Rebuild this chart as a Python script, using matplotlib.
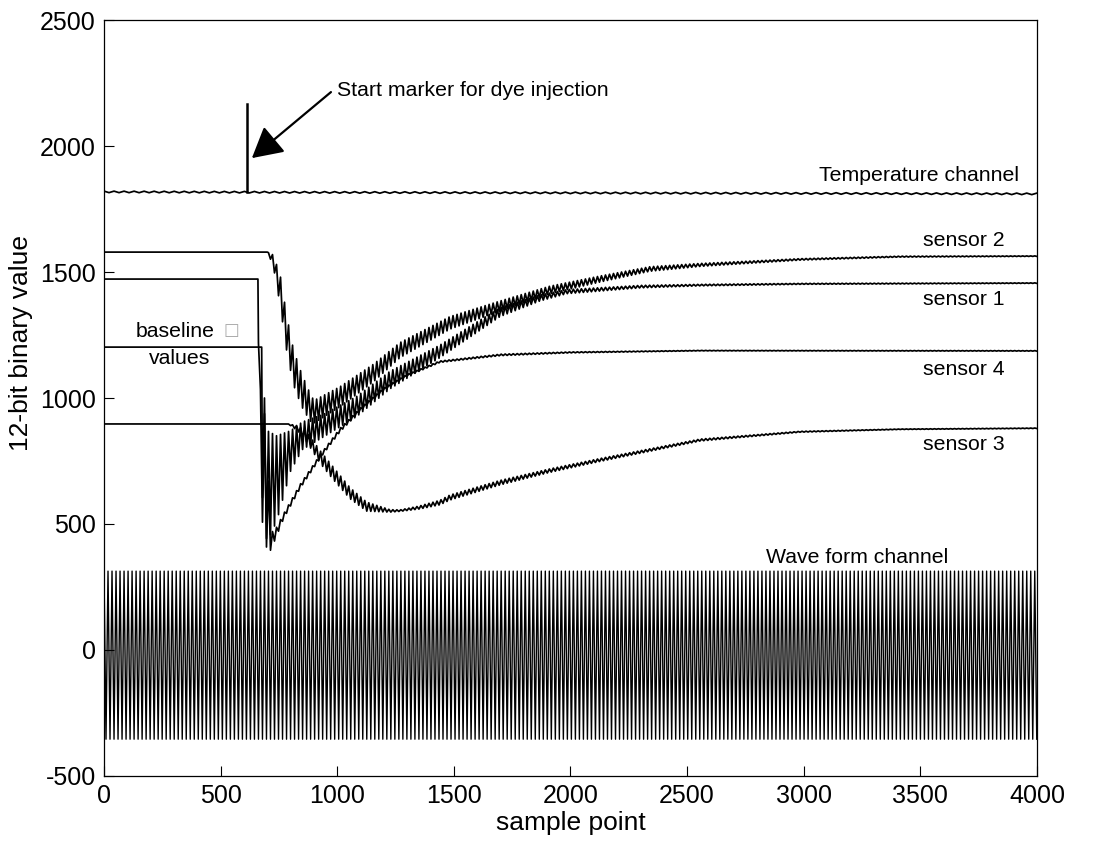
import numpy as np
import matplotlib
matplotlib.use("Agg")
import matplotlib.pyplot as plt
from matplotlib.patches import ArrowStyle

plt.rcParams['font.family'] = ['Liberation Sans', 'DejaVu Sans']
plt.rcParams['axes.unicode_minus'] = False

# ---------------- data ----------------
x_ticks = [0, 500, 1000, 1500, 2000, 2500, 3000, 3500, 4000]
y_ticks = [-500, 0, 500, 1000, 1500, 2000, 2500]

ripple_period = 17.2          # samples per oscillation cycle

# temperature channel
temp_x = [0, 1000, 2000, 3000, 4000]
temp_y = [1818, 1816, 1814, 1812, 1810]
temp_amp = [3, 3, 3, 3, 3]
marker_x = 613
marker_top = 2165

# sensor 1
s1_x = [0, 660, 668, 700, 740, 800, 850, 940, 1083, 1226, 1440, 1698, 1869, 1984, 2300, 2555, 3000, 4000]
s1_y = [1472, 1472, 800, 650, 680, 790, 850, 890, 966, 1071, 1185, 1341, 1397, 1422, 1442, 1448, 1453, 1456]
s1_amp = [0, 0, 250, 220, 170, 80, 55, 45, 40, 35, 25, 18, 12, 8, 5, 3, 2, 1]

# sensor 2
s2_x = [0, 700, 725, 755, 783, 812, 847, 883, 900, 1012, 1155, 1269, 1483, 1698, 1912, 2126, 2341, 2555, 2984, 3413, 4000]
s2_y = [1579, 1579, 1548, 1430, 1258, 1123, 1032, 964, 945, 1005, 1099, 1190, 1298, 1365, 1429, 1472, 1512, 1528, 1550, 1561, 1563]
s2_amp = [0, 0, 20, 60, 70, 70, 65, 55, 45, 40, 35, 30, 25, 20, 15, 12, 9, 6, 3, 2, 1]

# sensor 3
s3_x = [0, 790, 830, 869, 926, 983, 1055, 1126, 1226, 1269, 1350, 1440, 1483, 1698, 1912, 2126, 2555, 2984, 3413, 4000]
s3_y = [897, 897, 880, 846, 767, 701, 622, 569, 552, 553, 565, 585, 605, 664, 712, 754, 833, 866, 876, 880]
s3_amp = [0, 0, 10, 20, 25, 25, 22, 18, 5, 3, 6, 9, 10, 9, 7, 6, 4, 2, 1, 1]

# sensor 4
s4_x = [0, 676, 680, 700, 711, 730, 769, 840, 926, 1012, 1100, 1200, 1300, 1440, 1700, 2000, 2555, 4000]
s4_y = [1202, 1202, 800, 620, 430, 450, 529, 648, 767, 873, 955, 1035, 1090, 1144, 1171, 1181, 1188, 1187]
s4_amp = [0, 0, 300, 230, 40, 20, 10, 8, 7, 7, 6, 5, 4, 3, 3, 2, 1, 1]

# wave form channel
wave_top = 313
wave_bottom = -354

labels = ["Temperature channel", "sensor 2", "sensor 1", "sensor 4", "sensor 3", "Wave form channel"]


def ripple_line(kx, ky, ka, period, x_end=4000):
    kx = np.asarray(kx, float)
    ky = np.asarray(ky, float)
    ka = np.asarray(ka, float)
    grid = np.arange(0, x_end + 1e-9, period / 2.0)
    sign = np.where(np.arange(grid.size) % 2 == 0, 1.0, -1.0)
    corners = kx[ka == 0]
    xs = np.concatenate([grid, corners])
    off = np.concatenate([sign, np.zeros(corners.size)])
    order = np.argsort(xs, kind="stable")
    xs, off = xs[order], off[order]
    ys = np.interp(xs, kx, ky) + off * np.interp(xs, kx, ka)
    return xs, ys


fig = plt.figure(figsize=(11.04, 8.41), dpi=100)
ax = fig.add_axes([0.0942, 0.0773, 0.8451, 0.8989])

lw = 1.25
# waveform
wx = np.arange(0, 4000 + 1e-9, ripple_period / 2.0)
wy = np.where(np.arange(wx.size) % 2 == 0, wave_top, wave_bottom)
ax.plot(wx, wy, color="black", lw=1.0)

# temperature
tx, ty = ripple_line(temp_x, temp_y, temp_amp, ripple_period * 2.5)
ax.plot(tx, ty, color="black", lw=lw)
ax.plot([marker_x, marker_x], [np.interp(marker_x, temp_x, temp_y), marker_top], color="black", lw=1.8)

for kx, ky, ka in [(s1_x, s1_y, s1_amp), (s2_x, s2_y, s2_amp), (s3_x, s3_y, s3_amp), (s4_x, s4_y, s4_amp)]:
    xs, ys = ripple_line(kx, ky, ka, ripple_period)
    ax.plot(xs, ys, color="black", lw=lw)

ax.set_xlim(0, 4000)
ax.set_ylim(-500, 2500)
ax.set_xticks(x_ticks)
ax.set_yticks(y_ticks)
ax.tick_params(direction="in", length=7, width=0.8, labelsize=18, pad=6,
               top=False, right=False)
for s in ax.spines.values():
    s.set_linewidth(0.9)
ax.set_xlabel("sample point", fontsize=19, labelpad=2)
ax.set_ylabel("12-bit binary value", fontsize=19)
ax.yaxis.set_label_coords(-0.076, 0.573)

tfs = 15.3
ax.text(3065, 1881, labels[0], fontsize=tfs, va="center", ha="left")
ax.text(3511, 1627, labels[1], fontsize=tfs, va="center", ha="left")
ax.text(3511, 1389, labels[2], fontsize=tfs, va="center", ha="left")
ax.text(3511, 1115, labels[3], fontsize=tfs, va="center", ha="left")
ax.text(3511, 817, labels[4], fontsize=tfs, va="center", ha="left")
ax.text(2838, 330, labels[5], fontsize=tfs, va="bottom", ha="left")

ax.text(137, 1262, "baseline", fontsize=tfs, va="center", ha="left")
ax.text(512, 1268, "\u25a1", fontsize=12, va="center", ha="left", color="#aaaaaa",
        family=["DejaVu Sans"])
ax.text(193, 1155, "values", fontsize=tfs, va="center", ha="left")

ax.text(999, 2222, "Start marker for dye injection", fontsize=tfs, va="center", ha="left")
ax.annotate("", xy=(634, 1952), xytext=(973, 2214),
            arrowprops=dict(arrowstyle=ArrowStyle("-|>", head_length=1.87, head_width=1.03),
                            mutation_scale=10, lw=1.6, color="black",
                            shrinkA=0, shrinkB=0))

fig.savefig("out.png", dpi=100)
